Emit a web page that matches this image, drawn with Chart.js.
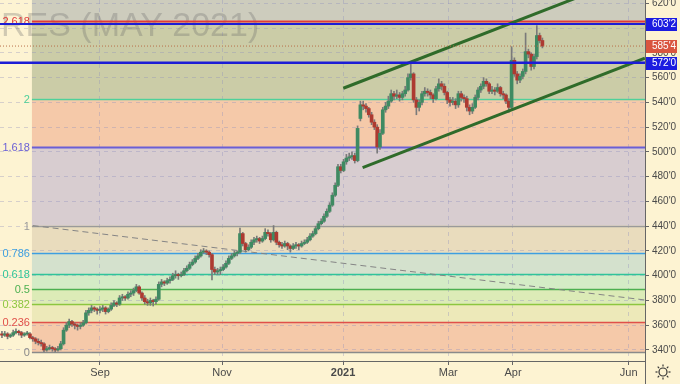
<!DOCTYPE html>
<html>
<head>
<meta charset="utf-8">
<script src="https://cdn.jsdelivr.net/npm/chart.js@4.4.1/dist/chart.umd.min.js"></script>
<style>
  html, body { margin: 0; padding: 0; background: #fdf3d2; }
  #wrap { width: 680px; height: 384px; position: relative; }
</style>
</head>
<body>
<div id="wrap"><canvas id="chart"></canvas></div>
<script>
// daily candles, [open, high, low, close]
const candles = [
  [353,355,350,352],[352,355,351,353],[353,354,349,351],[351,353,350,352],[352,356,351,354],
  [354,357,353,355],[355,356,352,354],[354,355,350,352],[352,354,351,353],[353,355,352,353],
  [353,354,349,350],[350,351,347,349],[349,350,345,347],[347,349,344,346],[346,348,343,345],
  [345,346,338.5,340],[340,343,339,341],[341,344,340,342],[342,343,339,341],[341,342,338.5,340],
  [340,343,339,341],[341,347,340,345],[345,358,344,356],[356,362,355,360],[360,365,358,363],
  [363,364,359,361],[361,362,357,360],[360,361,356,359],[359,362,357,360],[360,364,359,362],
  [362,372,361,370],[370,374,368,372],[372,376,370,374],[374,375,371,373],[373,374,369,372],
  [372,375,370,373],[373,376,371,374],[374,375,369,371],[371,374,370,373],[373,378,372,376],
  [376,380,375,378],[378,379,375,377],[377,384,376,382],[382,385,380,383],[383,384,380,382],
  [382,387,381,385],[385,388,383,386],[386,390,384,388],[388,393,387,391],[391,392,385,386],
  [386,387,380,382],[382,384,377,379],[379,381,376,378],[378,382,376,380],[380,381,375.5,379],
  [379,383,377,381],[381,395,380,393],[393,397,391,395],[395,396,392,394],[394,398,393,396],
  [396,399,394,397],[397,402,396,400],[400,404,398,401],[401,402,397,400],[400,403,399,401],
  [401,406,400,404],[404,408,403,406],[406,411,405,409],[409,413,408,411],[411,416,410,414],
  [414,418,413,416],[416,421,415,419],[419,422,418,420],[420,421,417,419],[419,420,415,417],
  [417,418,396.5,405],[405,407,401,403],[403,406,401,404],[404,407,401,405],[405,409,404,407],
  [407,412,406,410],[410,416,409,414],[414,418,413,416],[416,420,415,418],[418,420,416,419],
  [419,438.5,418,434],[434,435,424,426],[426,427,419,421],[421,425,420,423],[423,429,422,427],
  [427,431,425,429],[429,432,427,430],[430,431,426,428],[428,432,427,430],[430,438,429,435],
  [435,437,432,434],[434,435,427,429],[429,440.5,428,435],[435,436,425,427],[427,428,423,425],
  [425,427,422,424],[424,428,423,426],[426,427,421,424],[424,425,419,422],[422,426,421,424],
  [424,427,422,425],[425,426,421,424],[424,428,423,426],[426,429,425,427],[427,431,426,429],
  [429,434,428,432],[432,436,431,434],[434,440,433,438],[438,444,437,442],[442,446,441,444],
  [444,450,443,448],[448,454,447,452],[452,459,451,457],[457,467,456,465],[465,475,464,473],
  [473,490,472,488],[488,490,483,485],[485,494,484,492],[492,498,490,495],[495,499,493,496],
  [496,500,494,497],[497,499,491,493],[493,521,492,519],[527,541,525,538],[538,541,534,537],
  [537,539,532,535],[535,536,528,530],[530,532,522,524],[524,526,518,520],[520,522,499,504],
  [504,518,502,515],[515,536,514,534],[534,540,532,537],[537,545,535,541],[541,550,540,547],
  [547,549,542,545],[545,550,543,546],[546,548,541,544],[544,549,542,547],[547,553,545,550],
  [550,563,549,560],[560,573,558,563],[563,564,540,542],[542,544,530,536],[536,542,533,540],
  [540,549,538,547],[547,552,545,549],[549,551,545,548],[548,550,543,546],[546,547,540,543],
  [543,553,542,551],[551,559,549,555],[555,557,550,553],[553,555,546,548],[548,549,539,542],
  [542,544,537,540],[540,544,538,541],[541,543,535,538],[538,549,536,547],[547,549,541,544],
  [544,546,540,543],[543,545,533,536],[536,538,530,533],[533,539,531,536],[536,546,535,544],
  [544,552,542,550],[550,555,548,553],[553,560,551,557],[557,559,553,555],[555,556,547,549],
  [549,553,547,550],[550,552,546,549],[549,555,548,552],[552,553,545,547],[547,549,543,546],
  [546,547,539,541],[541,543,532,536],[536,585,535,574],[574,576,561,563],[563,565,555,558],
  [558,563,556,561],[561,567,559,565],[565,596,563,581],[581,583,576,579],[579,580,566,569],
  [569,579,567,577],[577,602,575,594],[594,596,588,590],[590,592,584,585.5]
];

// fibonacci extension anchored on the Aug low and the Nov/Dec high
const fibRatios = [0, 0.236, 0.382, 0.5, 0.618, 0.786, 1, 1.618, 2, 2.618];
const fibLabels = ["0", "0.236", "0.382", "0.5", "0.618", "0.786", "1", "1.618", "2", "2.618"];
const fibLow = 338.2;
const fibHigh = 440.5;
const fibStart = 10.7;

const yTicks = [340, 360, 380, 400, 420, 440, 460, 480, 500, 520, 540, 560, 580, 600, 620];
const xTickPos = [35, 78.6, 121.8, 159.4, 182.5, 223.8];
const xTickLabels = ["Sep", "Nov", "2021", "Mar", "Apr", "Jun"];

// drawn lines, [bar index, price]
const upperChannel = [[121.9, 551.4], [205, 624.3]];
const lowerChannel = [[128.8, 487.3], [229.6, 575.7]];
const fanLine = [[11, 440.5], [229.6, 380.4]];
const blueLevels = [603.25, 572];
const lastPrice = 585.5;

const xMin = -0.7, xMax = 229.64;
const yMin = 331.1, yMax = 622.7;

const fibLineColors = ["#8a8a8a", "#e0504a", "#8cc63f", "#4cb050", "#2fc49a", "#3d9ee0", "#9a9a9a", "#6a5fd6", "#4fd09a", "#e03a3a"];
const fibBandColors = ["#f5c9a9", "#ede9b9", "#dcebb7", "#d4ecc6", "#d4e1cd", "#e9dcbd", "#d8cdd0", "#f5c9a9", "#cbcca7", "#cdccbd"];
const upCol = "#3f8a62";
const downCol = "#ad3a31";

function fmt(v) {
  const whole = Math.floor(v);
  return whole + "'" + Math.round((v - whole) * 8);
}
function pts(arr) {
  return arr.map(p => ({x: p[0], y: p[1]}));
}

const fibPlugin = {
  id: "fib",
  beforeDraw(chart) {
    const {ctx, chartArea: a, scales: {x, y}} = chart;
    ctx.save();
    ctx.fillStyle = "#fdf3d2";
    ctx.fillRect(0, 0, chart.width, chart.height);
    ctx.beginPath();
    ctx.rect(a.left, a.top, a.right - a.left, a.bottom - a.top);
    ctx.clip();
    const x0 = x.getPixelForValue(fibStart);
    const lv = fibRatios.map(r => fibLow + r * (fibHigh - fibLow));
    for (let i = 0; i < lv.length; i++) {
      const yb = y.getPixelForValue(lv[i]);
      const yt = i < lv.length - 1 ? y.getPixelForValue(lv[i + 1]) : a.top;
      ctx.fillStyle = fibBandColors[i];
      ctx.fillRect(x0, yt, a.right - x0, yb - yt);
    }
    ctx.restore();
  },
  beforeDatasetsDraw(chart) {
    const {ctx, chartArea: a, scales: {x, y}} = chart;
    ctx.save();
    // symbol watermark
    ctx.font = '34px "Liberation Sans"';
    ctx.fillStyle = "rgba(105,105,105,0.3)";
    ctx.textBaseline = "alphabetic";
    ctx.fillText("RES (MAY 2021)", 1, 36);

    const x0 = x.getPixelForValue(fibStart);
    fibRatios.forEach((r, i) => {
      const py = Math.round(y.getPixelForValue(fibLow + r * (fibHigh - fibLow))) + 0.5;
      ctx.strokeStyle = fibLineColors[i];
      ctx.lineWidth = (r === 1.618 || r === 2.618) ? 2 : 1.5;
      ctx.beginPath();
      ctx.moveTo(x0, py);
      ctx.lineTo(a.right, py);
      ctx.stroke();
      ctx.fillStyle = fibLineColors[i];
      ctx.font = '11px "Liberation Sans"';
      ctx.textAlign = "right";
      ctx.textBaseline = "middle";
      ctx.fillText(fibLabels[i], x0 - 2, py);
    });
    ctx.restore();
  },
  afterDraw(chart) {
    const {ctx, chartArea: a, scales: {y}} = chart;
    ctx.save();
    ctx.strokeStyle = "#666";
    ctx.lineWidth = 1;
    ctx.beginPath();
    ctx.moveTo(a.right + 0.5, 0);
    ctx.lineTo(a.right + 0.5, chart.height);
    ctx.stroke();

    const boxes = [[blueLevels[0], "#1c1ce0"], [lastPrice, "#d9553f"], [blueLevels[1], "#1c1ce0"]];
    ctx.font = '10px "Liberation Sans"';
    ctx.textBaseline = "middle";
    ctx.textAlign = "left";
    boxes.forEach(b => {
      const py = y.getPixelForValue(b[0]);
      ctx.fillStyle = b[1];
      ctx.fillRect(a.right + 1, Math.round(py) - 6, 31, 13);
      ctx.fillStyle = "#ffffff";
      ctx.fillText(fmt(b[0]), a.right + 7, py + 0.5);
    });

    // settings icon
    const cx = 663, cy = 372;
    ctx.strokeStyle = "#333";
    ctx.lineWidth = 1.2;
    ctx.beginPath();
    ctx.arc(cx, cy, 4, 0, Math.PI * 2);
    ctx.stroke();
    for (let k = 0; k < 8; k++) {
      const ang = k * Math.PI / 4;
      ctx.beginPath();
      ctx.moveTo(cx + Math.cos(ang) * 5.5, cy + Math.sin(ang) * 5.5);
      ctx.lineTo(cx + Math.cos(ang) * 7.5, cy + Math.sin(ang) * 7.5);
      ctx.stroke();
    }
    ctx.restore();
  }
};

const datasets = [
  {
    type: "line", order: 0, data: pts([[xMin, blueLevels[0]], [xMax, blueLevels[0]]]),
    borderColor: "#1c1cd6", borderWidth: 2, pointRadius: 0
  },
  {
    type: "line", order: 0, data: pts([[xMin, blueLevels[1]], [xMax, blueLevels[1]]]),
    borderColor: "#1c1cd6", borderWidth: 2.5, pointRadius: 0
  },
  {
    type: "line", order: 0, data: pts([[xMin, lastPrice], [xMax, lastPrice]]),
    borderColor: "#b8704a", borderWidth: 1, borderDash: [1, 2], pointRadius: 0
  },
  {
    type: "line", order: 1, data: pts(upperChannel),
    borderColor: "#2f6b2a", borderWidth: 3, pointRadius: 0
  },
  {
    type: "line", order: 1, data: pts(lowerChannel),
    borderColor: "#2f6b2a", borderWidth: 3, pointRadius: 0
  },
  {
    type: "bar", order: 2, grouped: false,
    data: candles.map((c, i) => ({x: i, y: [c[0], c[3]]})),
    backgroundColor: candles.map(c => c[3] >= c[0] ? upCol : downCol),
    barThickness: 3, minBarLength: 1, borderWidth: 0
  },
  {
    type: "bar", order: 3, grouped: false,
    data: candles.map((c, i) => ({x: i, y: [c[2], c[1]]})),
    backgroundColor: "#7a7a7a",
    barThickness: 1, borderWidth: 0
  },
  {
    type: "line", order: 4, data: pts(fanLine),
    borderColor: "#858585", borderWidth: 1, borderDash: [6, 4], pointRadius: 0
  }
];

new Chart(document.getElementById("chart"), {
  data: {datasets: datasets},
  options: {
    responsive: true,
    maintainAspectRatio: false,
    animation: false,
    devicePixelRatio: 1,
    layout: {padding: 0},
    plugins: {legend: {display: false}, tooltip: {enabled: false}},
    elements: {line: {tension: 0, fill: false}},
    scales: {
      x: {
        type: "linear", position: "bottom", min: xMin, max: xMax, offset: false,
        afterBuildTicks: s => { s.ticks = xTickPos.map(v => ({value: v})); },
        afterFit: s => { s.height = 23; s.paddingLeft = 0; s.paddingRight = 0; },
        ticks: {
          autoSkip: false, maxRotation: 0, padding: 1, color: "#4a4a4a",
          callback: (v, i) => xTickLabels[i],
          font: c => ({family: "Liberation Sans", size: 11, weight: (c.tick && c.tick.label === "2021") ? "bold" : "normal"})
        },
        grid: {offset: false, color: "rgba(140,140,190,0.35)", tickLength: 4, tickColor: "#666"},
        border: {color: "#666", dash: [4, 4]}
      },
      y: {
        type: "linear", position: "right", min: yMin, max: yMax,
        afterBuildTicks: s => { s.ticks = yTicks.map(v => ({value: v})); },
        afterFit: s => { s.width = 35; s.paddingTop = 0; s.paddingBottom = 0; },
        ticks: {
          padding: 3, color: "#4a4a4a",
          font: {family: "Liberation Sans", size: 10},
          callback: v => fmt(v)
        },
        grid: {offset: false, color: "rgba(140,140,190,0.35)", tickLength: 4, tickColor: "#666"},
        border: {color: "#666", dash: [4, 4]}
      }
    }
  },
  plugins: [fibPlugin]
});
</script>
</body>
</html>
